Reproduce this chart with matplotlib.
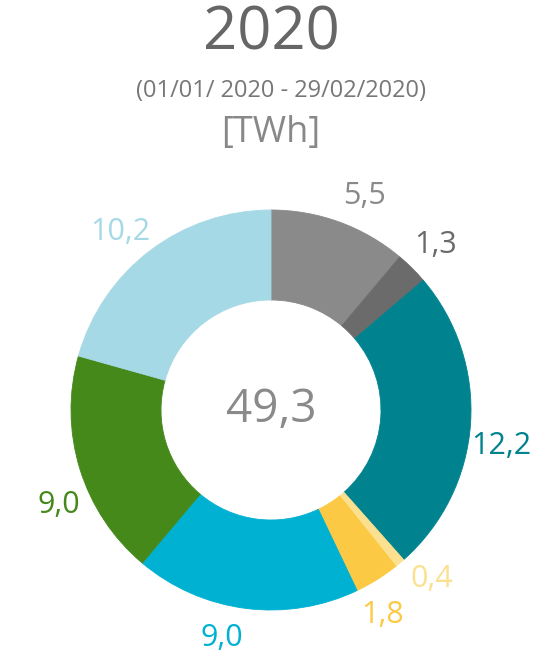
# -*- coding: utf-8 -*-

import numpy as np
import matplotlib as mpl
mpl.use('Agg')  # silent mode
import matplotlib.pyplot as plt

#------------------ FONT_setup ----------------------
plt.rcParams['font.family'] = ['Open Sans', 'DejaVu Sans']

#------------------ Data ----------------------
values = [5.5, 1.3, 12.2, 0.4, 1.8, 9.0, 9.0, 10.2]
labels = ['5,5', '1,3', '12,2', '0,4', '1,8', '9,0', '9,0', '10,2']
colors = ['#8a8a8a', '#6b6b6b', '#00838f', '#fbe08f', '#fcc944',
          '#00b1d2', '#45891b', '#a6d9e6']
total_label = '49,3'
title = '2020'
subtitle = '(01/01/ 2020 - 29/02/2020)'
unit = '[TWh]'

#------------------ Figure Setup ----------------------
W, H = 560, 652
fig = plt.figure(figsize=(W / 100, H / 100), dpi=100)

# donut centre ~ (271, 410) px from top, radius 200 px
cx, cy, R = 271, H - 410, 200
half = 1.4 * R
ax = fig.add_axes([(cx - half) / W, (cy - half) / H, 2 * half / W, 2 * half / H])

wedges, _ = ax.pie(values, colors=colors, startangle=90, counterclock=False,
                   radius=1.0,
                   wedgeprops=dict(width=0.45, linewidth=0.6, antialiased=True))
for w, c in zip(wedges, colors):
    w.set_edgecolor(c)
ax.set_xlim(-1.4, 1.4)
ax.set_ylim(-1.4, 1.4)
ax.set_aspect('equal')
ax.axis('off')

# value labels outside each slice, nudged apart when slices are tiny
cum = np.cumsum([0] + values)
tot = cum[-1]
mids = [(cum[i] + values[i] / 2) / tot * 360 for i in range(len(values))]
min_gap = 15
for i in range(len(mids) - 1):
    gap = mids[i + 1] - mids[i]
    if gap < min_gap:
        push = (min_gap - gap) / 2
        mids[i] -= push
        mids[i + 1] += push

# small angular nudges (deg) to mimic the label placement of the original
nudge = [3.5, 0, 5, 0, 0, 5, -7, -3]
for m, dn, lab, c in zip(mids, nudge, labels, colors):
    a = np.radians(m + dn)
    r = 1.165
    ax.text(r * np.sin(a), r * np.cos(a), lab, color=c, fontsize=22,
            ha='center', va='center', clip_on=False)

ax.text(0, 0, total_label, color='#8a8a8a', fontsize=33, ha='center', va='center')

#------------------ Titles ----------------------
tx = cx / W
fig.text(tx, 1 - 33 / H, title, color='#666666', fontsize=43, ha='center', va='center')
fig.text(tx + 10 / W, 1 - 91 / H, subtitle, color='#777777', fontsize=17, ha='center', va='center')
fig.text(tx, 1 - 133 / H, unit, color='#888888', fontsize=26, ha='center', va='center')

plt.savefig('out.png', dpi=100, facecolor='white')
